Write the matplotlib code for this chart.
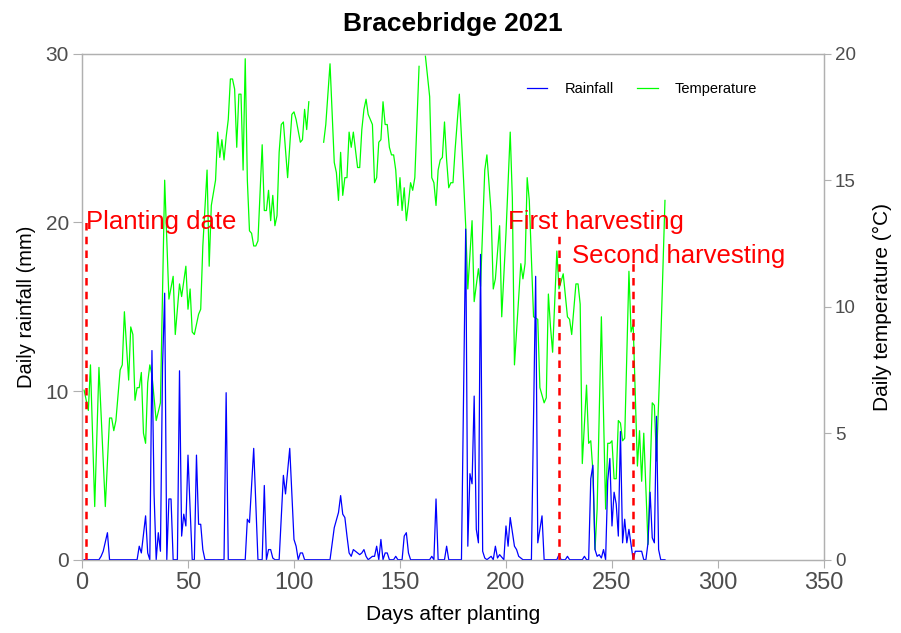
import numpy as np
import matplotlib
matplotlib.use("Agg")
import matplotlib.pyplot as plt

plt.rcParams["font.family"] = ["Liberation Sans", "DejaVu Sans"]

# daily temperature (°C), vertices; NaN = missing record
temp_days = [1, 2, 3, 4, 6, 8, 11, 13, 14, 15, 16, 18, 19, 20, 22, 23, 24, 25, 26, 27,
             28, 29, 30, 31, 32, 33, 35, 37, 39, 41, 43, 44, 46, 47, 49, 50, 51, 52, 53, 55,
             56, 57, 59, 60, 61, 63, 64, 65, 66, 67, 68, 69, 70, 71, 72, 73, 74, 75, 76, 77,
             78, 79, 80, 81, 82, 83, 85, 86, 87, 88, 89, 90, 91, 92, 93, 94, 95, 97, 99, 100,
             101, 103, 104, 105, 106, 107, 110, 114, 115, 117, 119, 120, 121, 122, 123, 124, 125, 126, 127, 128,
             130, 131, 132, 133, 134, 135, 137, 138, 139, 140, 141, 142, 143, 144, 145, 146, 147, 148, 149, 150,
             151, 152, 153, 154, 155, 156, 157, 159, 160, 162, 164, 165, 166, 167, 168, 169, 170, 171, 172, 173,
             174, 175, 176, 178, 180, 181, 182, 184, 185, 187, 188, 190, 191, 193, 194, 195, 197, 198, 200, 202,
             203, 204, 207, 208, 209, 210, 211, 213, 215, 216, 218, 219, 220, 221, 222, 224, 225, 226, 227, 229,
             230, 231, 233, 234, 235, 236, 238, 239, 240, 241, 242, 243, 245, 247, 248, 249, 250, 251, 252, 253,
             254, 255, 256, 258, 259, 260, 262, 263, 264, 265, 267, 269, 270, 271, 273, 275]
temp_vals = [6.7, 6.3, 5.9, 7.7, 2.1, 7.6, 2.1, 5.6, 5.6, 5.1, 5.5, 7.5, 7.7, 9.8, 7.1, 9.2, 8.9, 6.3, 6.8, 6.8,
             7.4, 5.0, 4.6, 7.0, 7.7, 7.3, 5.5, 6.2, 15.0, 10.3, 11.2, 8.9, 10.9, 10.4, 11.6, 9.9, 10.7, 9.0, 8.9, 9.7,
             9.9, 12.4, 15.4, 11.6, 14.0, 15.0, 16.9, 15.9, 16.6, 15.8, 16.7, 17.4, 19.0, 19.0, 18.6, 16.3, 18.4, 18.4, 15.4, 19.8,
             15.0, 13.0, 12.9, 12.4, 12.4, 12.6, 16.4, 13.8, 13.8, 14.6, 13.4, 14.4, 13.2, 13.6, 16.1, 17.2, 17.3, 15.1, 17.6, 17.7,
             17.4, 16.5, 16.6, 17.8, 17.0, 18.1, np.nan, 16.5, 17.2, 19.6, 15.7, 15.3, 14.2, 16.1, 14.4, 15.1, 15.1, 16.9, 16.3, 16.9,
             15.5, 15.5, 17.0, 17.8, 18.2, 17.6, 17.2, 14.9, 15.1, 16.5, 16.6, 18.1, 17.2, 17.2, 16.3, 16.0, 16.0, 15.4, 14.0, 15.1,
             13.8, 14.7, 13.4, 14.1, 14.9, 14.6, 15.1, 19.5, np.nan, 19.9, 18.3, 15.1, 14.9, 14.0, 15.4, 15.8, 15.9, 17.3, 15.8, 14.7,
             14.9, 14.9, 16.2, 18.4, 15.0, 13.2, 10.7, 13.4, 10.2, 11.5, 10.8, 15.4, 16.0, 13.7, 10.7, 11.1, 13.2, 9.6, 12.9, 16.9,
             14.3, 7.7, 11.7, 11.1, 11.7, 15.1, 14.2, 9.6, 9.5, 6.8, 6.2, 6.4, 10.5, 9.2, 8.2, 12.2, 10.7, 11.0, 11.3, 9.6,
             9.5, 8.9, 10.9, 10.9, 10.1, 3.8, 6.9, 4.6, 4.7, 3.5, 0.4, 2.0, 9.6, 2.0, 4.6, 4.6, 4.7, 3.2, 3.2, 5.5,
             5.4, 4.7, 4.8, 11.4, 9.0, 9.3, 3.7, 5.1, 3.1, 5.0, 0.6, 6.2, 6.1, 3.9, 8.6, 14.2]

# daily rainfall (mm), vertices
rain_days = [1, 8, 9, 10, 12, 13, 26, 27, 28, 30, 31, 32, 33, 34, 35, 36, 37, 38, 39, 40,
             41, 42, 43, 45, 46, 47, 48, 49, 50, 51, 52, 53, 54, 55, 56, 57, 58, 67, 68, 69,
             77, 78, 79, 81, 83, 85, 86, 87, 88, 89, 90, 91, 93, 95, 96, 98, 100, 101, 102, 103,
             104, 105, 117, 119, 121, 122, 123, 124, 125, 126, 127, 128, 130, 131, 132, 133, 134, 135, 137, 138,
             139, 140, 141, 142, 143, 144, 145, 147, 148, 149, 151, 152, 153, 154, 155, 164, 165, 166, 167, 168,
             171, 172, 173, 179, 181, 182, 183, 184, 185, 186, 187, 188, 189, 190, 191, 193, 194, 195, 196, 197,
             199, 200, 201, 202, 204, 205, 206, 208, 212, 214, 215, 217, 218, 224, 225, 226, 228, 229, 230, 236,
             237, 238, 239, 240, 241, 242, 243, 244, 245, 246, 247, 248, 249, 250, 251, 252, 253, 254, 255, 256,
             257, 258, 260, 261, 264, 265, 266, 267, 268, 269, 270, 271, 272, 273, 275]
rain_vals = [0, 0, 0.2, 0.5, 1.6, 0, 0, 0.8, 0.4, 2.6, 0.4, 0, 12.4, 3.9, 0, 1.6, 0.5, 11.5, 15.8, 0,
             3.6, 3.6, 0, 0, 11.2, 1.4, 2.7, 2.0, 6.2, 3.0, 0, 0, 6.2, 2.1, 2.1, 0.6, 0, 0, 9.9, 0,
             0, 2.4, 2.2, 6.6, 0, 0, 4.4, 0, 0.6, 0.6, 0.1, 0, 0, 5.0, 3.9, 6.6, 1.2, 0.8, 0, 0.4,
             0.4, 0, 0, 1.9, 2.8, 3.8, 2.7, 2.5, 1.4, 0.4, 0.2, 0.6, 0.4, 0.3, 0.4, 0.6, 0.2, 0, 0.2, 0.2,
             0.8, 0, 1.2, 0, 0.4, 0.4, 0, 0, 0.2, 0, 0, 1.4, 1.6, 0.4, 0, 0, 0.2, 0, 3.6, 0,
             0, 0.8, 0, 0, 19.6, 0.8, 5.1, 4.5, 9.7, 1.8, 1.0, 18.1, 0.5, 0.1, 0, 0.2, 0, 0.8, 0.1, 0.3,
             0, 2.0, 0.8, 2.5, 0.8, 0.6, 0.2, 0, 0, 16.8, 1.0, 2.6, 0, 0, 0.3, 0, 0, 0.2, 0, 0,
             0.2, 0, 0, 4.8, 5.6, 0.6, 0.2, 0.3, 0.1, 0.6, 0, 4.7, 6.0, 2.0, 4.0, 3.3, 1.4, 7.6, 1.0, 2.4,
             1.0, 1.8, 0, 0.5, 0.5, 0, 0, 1.0, 4.0, 1.3, 1.0, 8.5, 0.6, 0, 0]

# key dates: dashed line day, its top (mm), label text and where the label sits
event_days = [2, 225, 260]
event_tops = [20, 19.5, 17.6]
event_labels = ["Planting date", "First harvesting", "Second harvesting"]
label_x = [2, 201, 231]
label_y = [20, 20, 18]

grey = "#4d4d4d"
spine = "#b0b0b0"

fig = plt.figure(figsize=(9.01, 6.33), dpi=100)
ax = fig.add_axes([0.091, 0.1158, 0.8235, 0.7994])
ax2 = ax.twinx()
ax.set_zorder(ax2.get_zorder() + 1)
ax.patch.set_visible(False)

l1, = ax.plot(rain_days, rain_vals, color="blue", lw=0.9, label="Rainfall")
l2, = ax2.plot(temp_days, temp_vals, color="#00ff00", lw=0.9, label="Temperature")

for d, top in zip(event_days, event_tops):
    ax.plot([d, d], [0, top], color="red", lw=1.8, ls=(0, (3, 2.5)))
for x, y, s in zip(label_x, label_y, event_labels):
    ax.text(x, y, s, color="red", fontsize=18.5, ha="left", va="center")

ax.set_xlim(0, 350)
ax.set_ylim(0, 30)
ax2.set_ylim(0, 20)
ax.set_xticks(range(0, 351, 50))
ax.set_yticks([0, 10, 20, 30])
ax2.set_yticks([0, 5, 10, 15, 20])

for a in (ax, ax2):
    for s in a.spines.values():
        s.set_color(spine)
        s.set_linewidth(0.9)
ax.tick_params(axis="x", colors=spine, labelcolor=grey, labelsize=17, length=6, pad=3)
ax.tick_params(axis="y", colors=spine, labelcolor=grey, labelsize=15, length=6.5, pad=3)
ax2.tick_params(axis="y", colors=spine, labelcolor=grey, labelsize=13.5, length=5, pad=3)

ax.set_xlabel("Days after planting", fontsize=15, labelpad=8)
ax.set_ylabel("Daily rainfall (mm)", fontsize=14.5, labelpad=7)
ax2.set_ylabel("Daily temperature (°C)", fontsize=15, labelpad=12)
ax.set_title("Bracebridge 2021", fontsize=19, fontweight="bold", pad=16)

ax.legend([l1, l2], ["Rainfall", "Temperature"], loc="upper right", ncol=2, frameon=False,
          fontsize=10.5, handlelength=1.4, handletextpad=1.2, columnspacing=1.6,
          bbox_to_anchor=(0.928, 0.97))

fig.savefig("out.png", dpi=100)
